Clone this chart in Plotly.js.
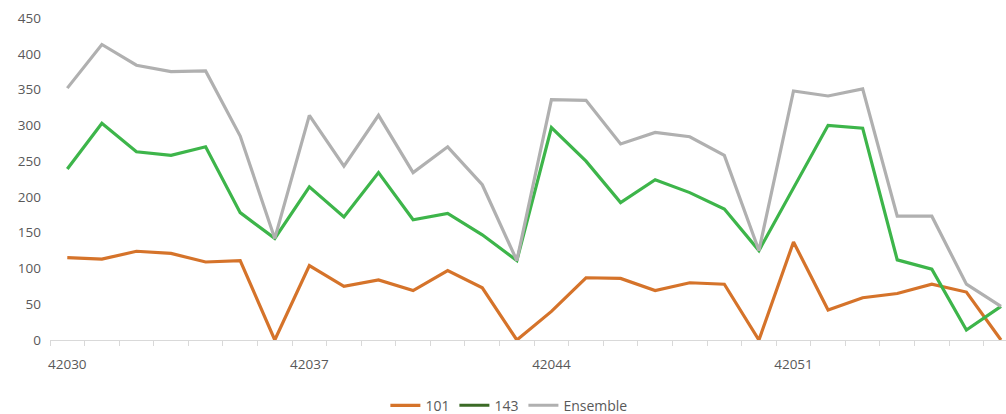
<!DOCTYPE html>
<html>
<head>
<meta charset="utf-8">
<script src="https://cdn.plot.ly/plotly-3.0.1.min.js"></script>
<style>html,body{margin:0;padding:0;background:#fff;}#chart{width:1006px;height:414px;}</style>
</head>
<body>
<div id="chart"></div>
<script>
const days = [42030,42031,42032,42033,42034,42035,42036,42037,42038,42039,42040,42041,42042,42043,42044,42045,42046,42047,42048,42049,42050,42051,42052,42053,42054,42055,42056,42057];
const tickLabels = [42030,42037,42044,42051];
const s101 = [115,113,124,121,109,111,0,104,75,84,69,97,73,0,40,87,86,69,80,78,0,137,42,59,65,78,67,0];
const s143 = [239,303,263,258,270,178,142,214,172,234,168,177,147,111,297,250,192,224,206,183,125,213,300,296,112,99,14,47];
const ensemble = [352,413,384,375,376,285,142,314,243,314,234,270,217,111,336,335,274,290,284,258,125,348,341,351,173,173,78,47];

const orange = '#d5732a', green = '#3db54a', grey = '#b0b0b0', legendGreen = '#3b6a26';
const font = {family: 'Open Sans, Liberation Sans, sans-serif', size: 13.5, color: '#595959'};
const legendFont = {family: 'Open Sans, Liberation Sans, sans-serif', size: 14, color: '#595959'};

const traces = [
  {x: days, y: s101, name: '101', type: 'scatter', mode: 'lines', line: {color: orange, width: 3.2}, cliponaxis: false, showlegend: true},
  {x: days, y: s143, name: '143', type: 'scatter', mode: 'lines', line: {color: green, width: 3.2}, cliponaxis: false, showlegend: false},
  {x: days, y: ensemble, name: 'Ensemble', type: 'scatter', mode: 'lines', line: {color: grey, width: 3.2}, cliponaxis: false, showlegend: false},
  {x: [null], y: [null], name: '143', type: 'scatter', mode: 'lines', line: {color: legendGreen, width: 3}, showlegend: true},
  {x: [null], y: [null], name: 'Ensemble', type: 'scatter', mode: 'lines', line: {color: grey, width: 3}, showlegend: true}
];

const layout = {
  width: 1006, height: 414,
  margin: {l: 50, r: 0, t: 18, b: 74},
  paper_bgcolor: '#fff', plot_bgcolor: '#fff',
  font: font,
  showlegend: true,
  legend: {orientation: 'h', x: 0.48, xanchor: 'center', yref: 'container', y: 0.02, yanchor: 'middle',
           font: legendFont, itemwidth: 30, traceorder: 'normal'},
  xaxis: {
    type: 'linear',
    range: [days[0] - 0.5, days[0] - 0.5 + 27.645],
    tickmode: 'array', tickvals: tickLabels, ticktext: tickLabels.map(String),
    ticks: '', showgrid: false, zeroline: false,
    showline: true, linecolor: '#d9d9d9', linewidth: 1,
    ticklabelstandoff: 12,
    tickfont: font,
    minor: {tickmode: 'array', tickvals: days.map(d => d - 0.5).concat([days[days.length-1] + 0.5]),
            ticks: 'outside', ticklen: 5, tickcolor: '#d9d9d9', tickwidth: 1, showgrid: false}
  },
  yaxis: {
    range: [0, 450], tickmode: 'linear', tick0: 0, dtick: 50,
    showgrid: false, zeroline: false, showline: false, ticks: '',
    tickfont: font, ticklabelstandoff: 8
  }
};

Plotly.newPlot('chart', traces, layout, {displayModeBar: false, staticPlot: true});
</script>
</body>
</html>
